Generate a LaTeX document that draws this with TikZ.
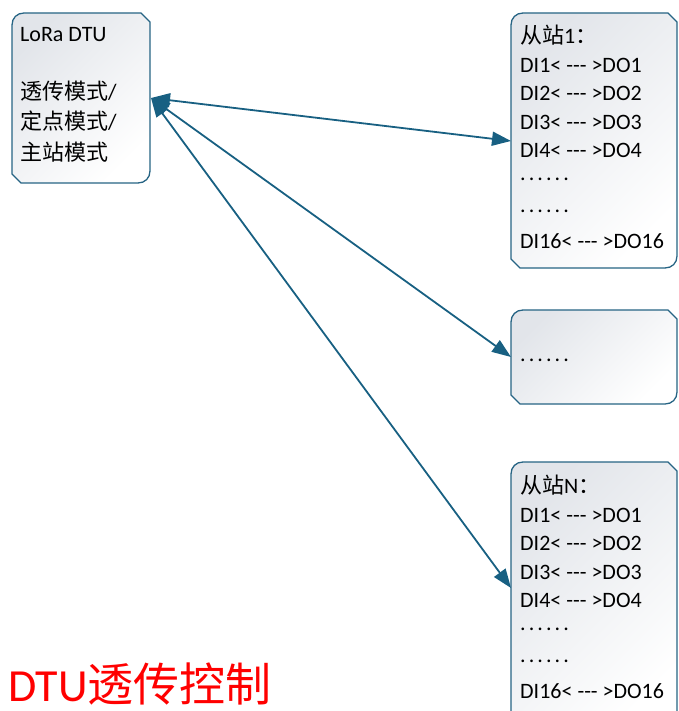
\documentclass[tikz,border=0pt]{standalone}
\usepackage{fontspec}
\setmainfont{Carlito}
\newfontfamily\cjk{Noto Sans CJK SC}
\usetikzlibrary{arrows.meta}

\definecolor{edge}{RGB}{38,100,132}
\definecolor{link}{RGB}{24,96,130}
\definecolor{shadegray}{RGB}{226,229,234}

% three separate hyphens (no dash ligature)
\newcommand\dsh{\mbox{-}\mbox{-}\mbox{-}}
% six spaced dots
\newcommand\sixdots{{\addfontfeature{LetterSpace=14}......}}

\tikzset{
  boxshape/.style={draw=edge, line width=1.3pt, top color=shadegray, bottom color=white, shading angle=45},
  txt/.style={inner sep=0pt, anchor=base west, font=\fontsize{22}{26}\selectfont},
  link/.style={draw=link, line width=1.8pt,
    {Triangle[length=19pt,width=14pt]}-{Triangle[length=19pt,width=14pt]}},
  headline/.style={inner sep=0pt, anchor=base west, text depth=0pt, text=red, font=\fontsize{46}{50}\selectfont}
}

% box with rounded top-left / bottom-right corners and snipped top-right / bottom-left corners
\newcommand\snipbox[4]{%
  \path[boxshape] (#1,#4-9) -- (#1,#2+12) .. controls (#1,#2+5) and (#1+5,#2) .. (#1+12,#2)
    -- (#3-9,#2) -- (#3,#2+9) -- (#3,#4-12) .. controls (#3,#4-5) and (#3-5,#4) .. (#3-12,#4)
    -- (#1+9,#4) -- cycle;}

\begin{document}
\begin{tikzpicture}[x=1pt,y=-1pt]
\useasboundingbox (0,0) rectangle (678,711);

% boxes
\snipbox{12}{13}{150}{183}
\snipbox{511}{13}{677}{268}
\snipbox{511}{310}{677}{404}
\snipbox{511}{462}{677}{730}

% master unit
\node[txt] (m0) at (20,42) {LoRa DTU};
\node[txt] (m1) at (20,100) {{\cjk 透传模式}/};
\node[txt] (m2) at (20,130) {{\cjk 定点模式}/};
\node[txt] (m3) at (20,161) {{\cjk 主站模式}};

% slave 1
\node[txt] (a0) at (520,44) {{\cjk 从站}1{\cjk ：}};
\node[txt] (a1) at (520,73) {DI1< \dsh{} >DO1};
\node[txt] (a2) at (520,101) {DI2< \dsh{} >DO2};
\node[txt] (a3) at (520,130) {DI3< \dsh{} >DO3};
\node[txt] (a4) at (520,158) {DI4< \dsh{} >DO4};
\node[txt] (a5) at (520,181) {\sixdots};
\node[txt] (a6) at (520,212) {\sixdots};
\node[txt] (a7) at (520,248) {DI16< \dsh{} >DO16};

% middle slave
\node[txt] (b0) at (520,361) {\sixdots};

% slave N
\node[txt] (c0) at (520,493) {{\cjk 从站}N{\cjk ：}};
\node[txt] (c1) at (520,522) {DI1< \dsh{} >DO1};
\node[txt] (c2) at (520,550) {DI2< \dsh{} >DO2};
\node[txt] (c3) at (520,579) {DI3< \dsh{} >DO3};
\node[txt] (c4) at (520,607) {DI4< \dsh{} >DO4};
\node[txt] (c5) at (520,630) {\sixdots};
\node[txt] (c6) at (520,662) {\sixdots};
\node[txt] (c7) at (520,698) {DI16< \dsh{} >DO16};

% link end points on the box edges
\coordinate (pm) at (151,98);
\coordinate (p1) at (511,141);
\coordinate (p2) at (511,357);
\coordinate (p3) at (511,588);

\draw[link] (pm) -- (p1);
\draw[link] (pm) -- (p2);
\draw[link] (pm) -- (p3);

% caption
\node[headline] (title) at (8,701) {DTU{\cjk 透传控制}};
\end{tikzpicture}
\end{document}
